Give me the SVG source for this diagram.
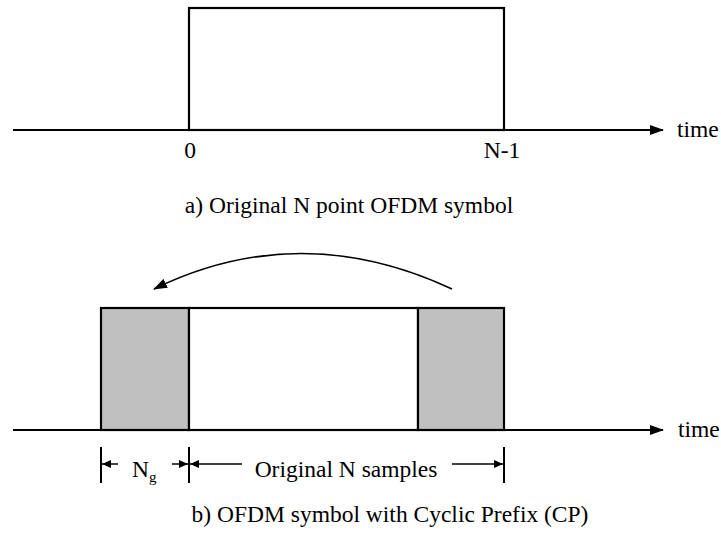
<svg xmlns="http://www.w3.org/2000/svg" width="721" height="537" viewBox="0 0 721 537">
<defs>
<style>
.ln{stroke:#000;stroke-width:2;fill:none}
.thin{stroke:#000;stroke-width:1.5;fill:none}
.box{stroke:#000;stroke-width:2.2;fill:#fff}
.cp{stroke:#000;stroke-width:2.2;fill:#c0c0c0}
text{font-family:"Liberation Serif","Times New Roman",serif;fill:#000}
.lab{font-size:23.5px}
</style>
<marker id="ah" viewBox="0 0 14 10" refX="13" refY="5" markerWidth="14" markerHeight="10" markerUnits="userSpaceOnUse" orient="auto">
<path d="M0,0 L14,5 L0,10 Z" fill="#000"/>
</marker>
<marker id="sm" viewBox="0 0 9 8" refX="9" refY="4" markerWidth="9" markerHeight="8" markerUnits="userSpaceOnUse" orient="auto">
<path d="M0,0 L9,4 L0,8 Z" fill="#000"/>
</marker>
</defs>

<g id="symbol-a">
<rect id="rect-a" class="box" x="189" y="8" width="315" height="122"/>
</g>
<g id="symbol-b">
<rect id="cp-left" class="cp" x="101" y="308" width="88" height="122"/>
<rect id="body-b" class="box" x="189" y="308" width="229" height="122"/>
<rect id="cp-right" class="cp" x="418" y="308" width="86" height="122"/>
</g>

<g id="connectors">
<line class="ln" x1="13" y1="130" x2="663" y2="130" marker-end="url(#ah)"/>
<line class="ln" x1="13" y1="430" x2="663" y2="430" marker-end="url(#ah)"/>
<path class="thin" d="M452,289 Q300,218 154,289" marker-end="url(#ah)"/>
<line class="ln" x1="101" y1="447" x2="101" y2="483"/>
<line class="ln" x1="189" y1="447" x2="189" y2="483"/>
<line class="ln" x1="504" y1="447" x2="504" y2="483"/>
<line class="thin" x1="118" y1="464" x2="102" y2="464" marker-end="url(#sm)"/>
<line class="thin" x1="172" y1="464" x2="188" y2="464" marker-end="url(#sm)"/>
<line class="thin" x1="242" y1="464" x2="190" y2="464" marker-end="url(#sm)"/>
<line class="thin" x1="452" y1="464" x2="503" y2="464" marker-end="url(#sm)"/>
</g>

<g id="labels">
<text class="lab" x="677" y="137">time</text>
<text class="lab" x="678" y="437">time</text>
<text class="lab" x="190" y="158" text-anchor="middle">0</text>
<text class="lab" x="502" y="158" text-anchor="middle">N-1</text>
<text class="lab" x="349" y="213" text-anchor="middle">a) Original N point OFDM symbol</text>
<text class="lab" x="132" y="477">N<tspan font-size="15" dy="5">g</tspan></text>
<text class="lab" x="346" y="477" text-anchor="middle">Original N samples</text>
<text class="lab" x="390" y="522" text-anchor="middle">b) OFDM symbol with Cyclic Prefix (CP)</text>
</g>
</svg>
